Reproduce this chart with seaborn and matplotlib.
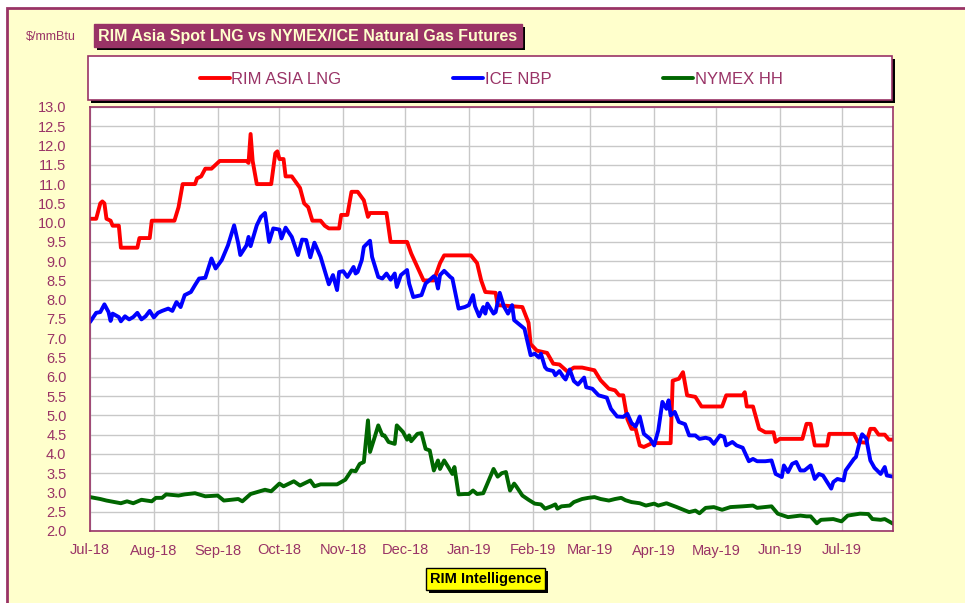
"""
Gráfico RIM Asia Spot LNG x futuros de gás natural NYMEX/ICE (Jul-18 a Jul-19).
Valores lidos do gráfico original, em $/mmBtu.
"""

import matplotlib
matplotlib.use("Agg")
import matplotlib.pyplot as plt
import matplotlib.dates as mdates
from matplotlib.patches import Rectangle
import pandas as pd
import seaborn as sns

INICIO = pd.Timestamp("2018-07-01")
FIM = pd.Timestamp("2019-07-26")

# dias desde 01/07/2018 e preços ($/mmBtu)
lng_dias = [0, 3, 5, 6, 7, 8, 10, 11, 14, 15, 23, 24, 29, 30, 41, 43, 45, 51, 52, 54,
            56, 59, 60, 63, 76, 77, 78, 79, 81, 88, 90, 91, 92, 94, 95, 98, 102, 104, 106, 108,
            112, 114, 116, 121, 122, 125, 127, 130, 133, 135, 136, 144, 146, 154, 156, 159, 162, 167, 170, 172,
            185, 188, 190, 192, 197, 198, 210, 213, 214, 217, 222, 225, 228, 232, 235, 239, 245, 248, 252, 255,
            257, 259, 261, 263, 265, 267, 269, 273, 282, 283, 286, 288, 290, 294, 297, 307, 309, 317, 318, 319,
            322, 325, 328, 332, 333, 335, 346, 348, 350, 352, 358, 359, 371, 373, 377, 379, 381, 383, 386, 388,
            390]
lng_vals = [10.1, 10.1, 10.5, 10.55, 10.5, 10.1, 10.05, 9.92, 9.92, 9.35, 9.35, 9.6, 9.6, 10.05, 10.05, 10.4, 11.0, 11.0, 11.15, 11.2,
            11.4, 11.4, 11.45, 11.6, 11.6, 11.55, 12.3, 11.6, 11.0, 11.0, 11.8, 11.85, 11.65, 11.65, 11.2, 11.2, 10.9, 10.5, 10.4, 10.05,
            10.05, 9.92, 9.85, 9.85, 10.2, 10.2, 10.8, 10.8, 10.58, 10.15, 10.25, 10.25, 9.5, 9.5, 9.2, 8.85, 8.5, 8.5, 8.95, 9.15,
            9.15, 8.95, 8.5, 8.2, 8.18, 7.86, 7.81, 7.4, 6.85, 6.68, 6.62, 6.34, 6.32, 6.13, 6.24, 6.24, 6.17, 5.91, 5.69, 5.65,
            5.52, 5.52, 4.9, 4.65, 4.65, 4.22, 4.18, 4.28, 4.28, 5.9, 5.95, 6.12, 5.52, 5.48, 5.23, 5.23, 5.52, 5.52, 5.6, 5.23,
            5.23, 4.65, 4.56, 4.56, 4.31, 4.39, 4.39, 4.78, 4.78, 4.22, 4.22, 4.52, 4.52, 4.31, 4.29, 4.65, 4.65, 4.5, 4.5, 4.37,
            4.37]

nbp_dias = [0, 3, 5, 7, 9, 10, 11, 14, 15, 17, 19, 21, 23, 25, 27, 29, 31, 33, 35, 38,
            40, 42, 44, 46, 49, 51, 53, 56, 59, 61, 64, 67, 70, 72, 73, 76, 77, 78, 81, 83,
            85, 87, 89, 92, 93, 95, 98, 101, 103, 105, 107, 109, 112, 116, 118, 120, 121, 123, 125, 128,
            129, 130, 132, 133, 136, 137, 140, 142, 144, 146, 148, 149, 151, 154, 155, 157, 161, 163, 167, 168,
            169, 170, 172, 175, 176, 179, 182, 184, 186, 187, 189, 191, 192, 193, 196, 197, 199, 201, 203, 205,
            206, 209, 211, 214, 216, 218, 219, 221, 222, 225, 226, 228, 230, 231, 233, 235, 237, 240, 241, 244,
            247, 251, 253, 256, 259, 261, 263, 265, 267, 269, 272, 274, 276, 278, 280, 281, 282, 284, 286, 289,
            291, 294, 296, 299, 301, 303, 306, 308, 309, 312, 314, 317, 320, 322, 324, 328, 331, 333, 336, 337,
            339, 341, 343, 345, 347, 350, 352, 354, 356, 358, 360, 361, 363, 366, 367, 371, 372, 374, 375, 377,
            379, 381, 384, 386, 387, 390]
nbp_vals = [7.42, 7.66, 7.68, 7.88, 7.68, 7.45, 7.64, 7.55, 7.44, 7.57, 7.49, 7.55, 7.66, 7.49, 7.57, 7.71, 7.54, 7.66, 7.71, 7.77,
            7.71, 7.94, 7.81, 8.12, 8.2, 8.38, 8.55, 8.57, 9.07, 8.81, 9.03, 9.41, 9.93, 9.46, 9.16, 9.41, 9.63, 9.39, 9.93, 10.15,
            10.25, 9.5, 9.85, 9.82, 9.59, 9.87, 9.63, 9.16, 9.56, 9.55, 9.1, 9.48, 9.11, 8.4, 8.64, 8.25, 8.72, 8.74, 8.59, 8.85,
            8.68, 8.72, 9.03, 9.37, 9.53, 9.11, 8.59, 8.55, 8.68, 8.52, 8.68, 8.33, 8.64, 8.77, 8.42, 8.07, 8.12, 8.42, 8.61, 8.55,
            8.29, 8.64, 8.75, 8.59, 8.55, 7.77, 7.81, 7.86, 8.12, 7.83, 7.57, 7.81, 7.64, 7.9, 7.64, 7.68, 8.18, 7.83, 7.64, 7.86,
            7.47, 7.34, 7.25, 6.56, 6.6, 6.5, 6.6, 6.25, 6.19, 6.15, 6.04, 6.15, 5.99, 5.93, 6.19, 5.89, 5.8, 5.98, 5.73, 5.69,
            5.52, 5.46, 5.17, 4.97, 4.96, 5.04, 4.8, 4.71, 4.97, 4.52, 4.39, 4.22, 4.61, 5.35, 5.17, 5.39, 5.0, 5.09, 4.83, 4.77,
            4.48, 4.48, 4.39, 4.42, 4.39, 4.26, 4.48, 4.44, 4.22, 4.31, 4.22, 4.16, 3.81, 3.87, 3.81, 3.81, 3.83, 3.48, 3.4, 3.7,
            3.53, 3.74, 3.79, 3.57, 3.57, 3.7, 3.35, 3.48, 3.44, 3.27, 3.1, 3.27, 3.35, 3.31, 3.57, 3.87, 3.92, 4.35, 4.51, 4.4,
            3.83, 3.64, 3.48, 3.66, 3.44, 3.41]

hh_dias = [0, 5, 8, 12, 15, 18, 21, 25, 30, 32, 35, 37, 43, 46, 51, 56, 62, 65, 72, 74,
           78, 85, 88, 92, 94, 99, 102, 107, 109, 112, 120, 124, 127, 129, 131, 133, 135, 136, 138, 140,
           142, 143, 145, 148, 149, 152, 154, 155, 156, 159, 161, 163, 165, 167, 169, 170, 172, 174, 176, 177,
           179, 182, 184, 186, 188, 191, 193, 196, 198, 200, 202, 204, 206, 207, 210, 213, 216, 219, 221, 224,
           226, 227, 229, 233, 235, 239, 242, 245, 248, 252, 255, 258, 260, 263, 267, 270, 274, 276, 280, 285,
           291, 294, 296, 299, 303, 307, 311, 317, 322, 324, 331, 334, 339, 345, 348, 350, 353, 355, 361, 365,
           368, 374, 378, 380, 384, 386, 390]
hh_vals = [2.88, 2.83, 2.79, 2.75, 2.72, 2.77, 2.72, 2.81, 2.77, 2.86, 2.86, 2.95, 2.92, 2.95, 2.98, 2.9, 2.92, 2.79, 2.83, 2.77,
           2.96, 3.07, 3.03, 3.23, 3.16, 3.29, 3.18, 3.31, 3.16, 3.21, 3.21, 3.33, 3.57, 3.55, 3.74, 3.79, 4.87, 4.05, 4.39, 4.74,
           4.48, 4.48, 4.31, 4.26, 4.74, 4.57, 4.37, 4.48, 4.33, 4.52, 4.54, 4.13, 4.09, 3.57, 3.83, 3.61, 3.83, 3.66, 3.48, 3.66,
           2.95, 2.96, 2.96, 3.05, 2.96, 2.98, 3.23, 3.61, 3.41, 3.5, 3.53, 3.05, 3.23, 3.16, 2.92, 2.81, 2.71, 2.69, 2.58, 2.64,
           2.69, 2.58, 2.64, 2.66, 2.75, 2.83, 2.86, 2.88, 2.83, 2.79, 2.83, 2.86, 2.8, 2.75, 2.72, 2.66, 2.71, 2.66, 2.72, 2.62,
           2.49, 2.53, 2.46, 2.6, 2.62, 2.55, 2.62, 2.64, 2.66, 2.6, 2.64, 2.45, 2.36, 2.4, 2.38, 2.38, 2.2, 2.29, 2.31, 2.25,
           2.4, 2.45, 2.44, 2.31, 2.29, 2.31, 2.19]

SERIES = ["RIM ASIA LNG", "ICE NBP", "NYMEX HH"]
CORES = {"RIM ASIA LNG": "#FF0000", "ICE NBP": "#0000FF", "NYMEX HH": "#006600"}

VINHO = "#993366"
CREME = "#FFFFCC"

W, H = 965, 603


def fx(x):
    return x / W


def fy(y):
    return 1 - y / H


def caixa(fig, x0, y0, x1, y1, face, borda, lw=1.0, sombra=3, z=2):
    # retângulo em pixels (origem no topo), com sombra preta deslocada
    if sombra:
        fig.patches.append(Rectangle((fx(x0 + sombra), fy(y1 + sombra)), fx(x1 - x0), (y1 - y0) / H,
                                     transform=fig.transFigure, facecolor="black",
                                     edgecolor="none", zorder=z))
    fig.patches.append(Rectangle((fx(x0), fy(y1)), fx(x1 - x0), (y1 - y0) / H,
                                 transform=fig.transFigure, facecolor=face,
                                 edgecolor=borda, lw=lw, zorder=z + 0.1))


sns.set_style("white")
plt.rcParams["font.family"] = ["Liberation Sans", "DejaVu Sans"]

partes = []
for nome, dias, vals in [("RIM ASIA LNG", lng_dias, lng_vals),
                         ("ICE NBP", nbp_dias, nbp_vals),
                         ("NYMEX HH", hh_dias, hh_vals)]:
    partes.append(pd.DataFrame({"data": INICIO + pd.to_timedelta(dias, unit="D"),
                                "valor": vals, "serie": nome}))
df = pd.concat(partes, ignore_index=True)

fig = plt.figure(figsize=(W / 100, H / 100), dpi=100)
fig.patch.set_facecolor("white")

# painel creme com borda vinho
fig.patches.append(Rectangle((fx(7), fy(620)), fx(980), 612 / H, transform=fig.transFigure,
                             facecolor=CREME, edgecolor=VINHO, lw=2, zorder=-10))

ax = fig.add_axes([fx(90), fy(531), fx(893 - 90), (531 - 107) / H])
ax.set_facecolor("white")

sns.lineplot(data=df, x="data", y="valor", hue="serie", hue_order=SERIES,
             palette=CORES, estimator=None, sort=True, lw=2.8, legend=False, ax=ax)
for ln in ax.get_lines():
    ln.set_solid_joinstyle("round")
    ln.set_solid_capstyle("round")

ax.set_xlim(INICIO, FIM)
ax.set_ylim(2.0, 13.0)
ax.set_yticks([2.0 + 0.5 * i for i in range(23)])
ax.yaxis.set_major_formatter(matplotlib.ticker.FormatStrFormatter("%.1f"))
ax.xaxis.set_major_locator(mdates.MonthLocator())
ax.xaxis.set_major_formatter(mdates.DateFormatter("%b-%y"))
ax.grid(True, color="#C8C8C8", lw=1.0)
ax.set_axisbelow(True)
ax.set_xlabel("")
ax.set_ylabel("")
ax.tick_params(axis="both", direction="in", length=4, color=VINHO,
               labelcolor=VINHO, labelsize=10.5)
ax.tick_params(axis="y", pad=17)
ax.tick_params(axis="x", pad=9)
for sp in ax.spines.values():
    sp.set_color(VINHO)
    sp.set_linewidth(1.2)

# título
caixa(fig, 94, 24, 522, 47, VINHO, VINHO)
fig.text(fx(308), fy(36), "RIM Asia Spot LNG vs NYMEX/ICE Natural Gas Futures",
         ha="center", va="center", color=CREME, fontsize=11.5, fontweight="bold", zorder=5)
fig.text(fx(51), fy(37), "$/mmBtu", ha="center", va="center", color=VINHO, fontsize=9)

# legenda
caixa(fig, 88, 56, 892, 100, "white", VINHO, lw=1.2)
fig.legend(ax.get_lines(), SERIES, loc="center", bbox_to_anchor=(fx(491), fy(79)),
           ncol=3, frameon=False, fontsize=12, handlelength=1.8, handletextpad=0.1,
           columnspacing=6.7, labelcolor=VINHO)

# rodapé
caixa(fig, 426, 568, 545, 590, "#FFFF00", "black", lw=1.0, sombra=3)
fig.text(fx(485.5), fy(579), "RIM Intelligence", ha="center", va="center",
         fontsize=10.5, fontweight="bold", color="black", zorder=5)

fig.savefig("out.png", dpi=100)
